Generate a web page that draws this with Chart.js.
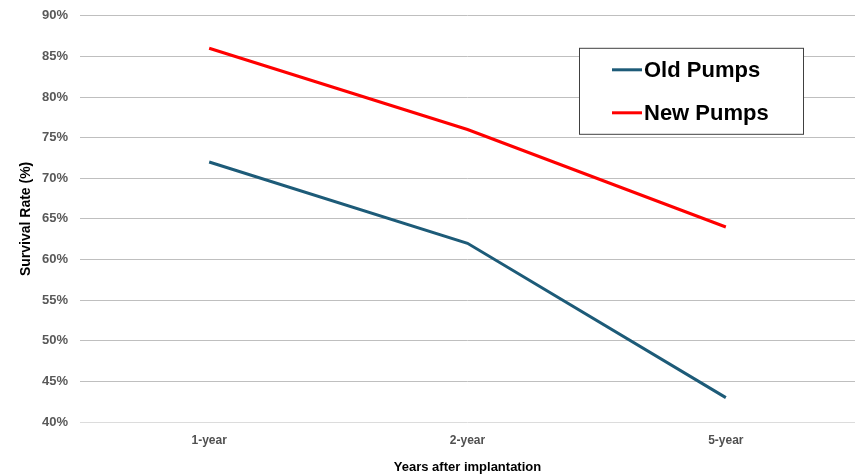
<!DOCTYPE html>
<html>
<head>
<meta charset="utf-8">
<script src="https://cdn.jsdelivr.net/npm/chart.js@4/dist/chart.umd.min.js"></script>
<style>
    html, body { margin: 0; padding: 0; background: #fff; overflow: hidden; }
    #page { position: relative; width: 856px; height: 476px; overflow: hidden; }
    #wrap { position: absolute; left: 0; top: -4px; width: 856px; height: 480px; }
</style>
</head>
<body>
<div id="page"><div id="wrap"><canvas id="chart"></canvas></div></div>
<script>
const categories = ['1-year', '2-year', '5-year'];
const oldPumps = [72, 62, 43];
const newPumps = [86, 76, 64];
const yTicks = [40, 45, 50, 55, 60, 65, 70, 75, 80, 85, 90];

const tickFont = { family: '"Liberation Sans", Arial, sans-serif', size: 13, weight: 'bold' };
const xTickFont = { family: '"Liberation Sans", Arial, sans-serif', size: 12, weight: 'bold' };
const xTitleFont = { family: '"Liberation Sans", Arial, sans-serif', size: 13, weight: 'bold' };

// boxed legend in the top right corner of the plot
const boxLegend = {
    id: 'boxLegend',
    afterDraw(chart) {
        const { ctx, chartArea } = chart;
        const x = chartArea.right - 276;
        const y = chartArea.top + 32;
        const w = 224;
        const h = 86;

        ctx.save();
        ctx.fillStyle = '#ffffff';
        ctx.fillRect(x, y, w, h);
        ctx.strokeStyle = '#404040';
        ctx.lineWidth = 1;
        ctx.strokeRect(x + 0.5, y + 0.5, w, h);

        ctx.font = 'bold 22px "Liberation Sans", Arial, sans-serif';
        ctx.textBaseline = 'middle';
        ctx.textAlign = 'left';
        chart.data.datasets.forEach((dataset, i) => {
            const rowY = y + 22 + i * 43;
            ctx.strokeStyle = dataset.borderColor;
            ctx.lineWidth = 3;
            ctx.beginPath();
            ctx.moveTo(x + 33, rowY);
            ctx.lineTo(x + 63, rowY);
            ctx.stroke();
            ctx.fillStyle = '#000000';
            ctx.fillText(dataset.label, x + 65, rowY + 1);
        });
        ctx.restore();
    },
};

new Chart(document.getElementById('chart'), {
    type: 'line',
    data: {
        labels: categories,
        datasets: [
            {
                label: 'Old Pumps',
                data: oldPumps,
                borderColor: '#1d5b78',
                backgroundColor: '#1d5b78',
                borderWidth: 3,
                pointRadius: 0,
                tension: 0,
            },
            {
                label: 'New Pumps',
                data: newPumps,
                borderColor: '#ff0000',
                backgroundColor: '#ff0000',
                borderWidth: 3,
                pointRadius: 0,
                tension: 0,
            },
        ],
    },
    options: {
        responsive: true,
        maintainAspectRatio: false,
        animation: false,
        layout: {
            padding: { top: 0, right: 1, left: 0, bottom: 0 },
        },
        plugins: {
            legend: { display: false },
            tooltip: { enabled: false },
        },
        scales: {
            x: {
                offset: true,
                grid: { display: false, drawTicks: false },
                border: { display: false },
                ticks: {
                    color: '#505050',
                    font: xTickFont,
                    padding: 11,
                    maxRotation: 0,
                },
                title: {
                    display: true,
                    text: 'Years after implantation',
                    color: '#000000',
                    font: xTitleFont,
                    padding: { top: 0, bottom: 1 },
                },
                afterFit: (scale) => {
                    scale.height = 54;
                },
            },
            y: {
                min: 40,
                max: 90,
                afterBuildTicks: (scale) => {
                    scale.ticks = yTicks.map((value) => ({ value }));
                },
                grid: {
                    drawTicks: false,
                    color: (ctx) => (ctx.tick && ctx.tick.value === 40 ? '#dcdcdc' : '#bfbfbf'),
                    lineWidth: 1,
                },
                border: { display: false },
                ticks: {
                    color: '#595959',
                    font: tickFont,
                    padding: 12,
                    callback: (value) => `${value}%`,
                },
                title: {
                    display: true,
                    text: 'Survival Rate (%)',
                    color: '#000000',
                    font: { family: '"Liberation Sans", Arial, sans-serif', size: 14, weight: 'bold' },
                    padding: { top: 18, bottom: 0 },
                },
                afterFit: (scale) => {
                    scale.width = 80;
                },
            },
        },
    },
    plugins: [boxLegend],
});
</script>
</body>
</html>
